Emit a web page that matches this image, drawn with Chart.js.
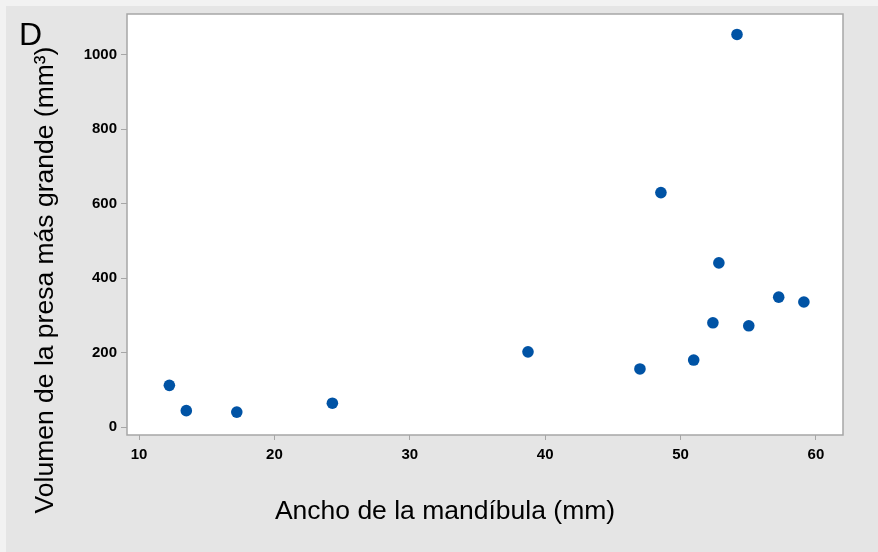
<!DOCTYPE html>
<html>
<head>
<meta charset="utf-8">
<script src="https://cdn.jsdelivr.net/npm/chart.js@4/dist/chart.umd.min.js"></script>
<style>
  html, body { margin: 0; padding: 0; background: #f2f2f2; }
  #wrap { width: 878px; height: 552px; position: relative; }
</style>
</head>
<body>
<div id="wrap"><canvas id="c" width="878" height="552"></canvas></div>
<script>
// Data
const mandibleWidth = [12.24, 13.49, 17.22, 24.28, 38.73, 47.0, 48.55, 50.97, 52.39, 52.83, 54.17, 55.04, 57.25, 59.11];
const preyVolume    = [112, 44, 40, 64, 202, 156, 630, 180, 280, 441, 1055, 272, 349, 336];
const xTicks = [10, 20, 30, 40, 50, 60];
const yTicks = [0, 200, 400, 600, 800, 1000];
const panelLabel = "D";
const xTitle = "Ancho de la mandíbula (mm)";
const yTitle = "Volumen de la presa más grande (mm³)";

const points = mandibleWidth.map((w, i) => ({ x: w, y: preyVolume[i] }));

const FONT = "'Liberation Sans', Arial, Helvetica, sans-serif";

const decor = {
  id: 'decor',
  beforeDraw(chart) {
    const { ctx, chartArea: a } = chart;
    ctx.save();
    ctx.fillStyle = '#f2f2f2';
    ctx.fillRect(0, 0, chart.width, chart.height);
    ctx.fillStyle = '#e5e5e5';
    ctx.fillRect(6, 6, chart.width - 6, chart.height - 6);
    ctx.fillStyle = '#ffffff';
    ctx.fillRect(a.left, a.top, a.right - a.left, a.bottom - a.top);
    ctx.restore();
  },
  afterDatasetsDraw(chart) {
    const { ctx, chartArea: a } = chart;
    ctx.save();
    ctx.strokeStyle = '#a6a6a6';
    ctx.lineWidth = 1.5;
    ctx.strokeRect(a.left, a.top, a.right - a.left, a.bottom - a.top);
    ctx.restore();
  },
  afterDraw(chart) {
    const { ctx } = chart;
    ctx.save();
    ctx.fillStyle = '#000000';
    ctx.textBaseline = 'alphabetic';
    // panel letter
    ctx.font = "32px " + FONT;
    ctx.textAlign = 'left';
    ctx.fillText(panelLabel, 19, 45);
    // x title
    ctx.font = "26.5px " + FONT;
    ctx.textAlign = 'center';
    ctx.fillText(xTitle, 445, 519);
    // y title
    ctx.translate(53, 280);
    ctx.rotate(-Math.PI / 2);
    ctx.font = "26.5px " + FONT;
    ctx.textAlign = 'center';
    ctx.fillText(yTitle, 0, 0);
    ctx.restore();
  }
};

new Chart(document.getElementById('c'), {
  type: 'scatter',
  data: {
    datasets: [{
      data: points,
      backgroundColor: '#0053a5',
      borderColor: '#0053a5',
      borderWidth: 0,
      pointRadius: 5.8,
      pointHoverRadius: 5.8
    }]
  },
  options: {
    responsive: false,
    animation: false,
    devicePixelRatio: 1,
    layout: { padding: { left: 0, top: 14, right: 35, bottom: 0 } },
    plugins: { legend: { display: false }, tooltip: { enabled: false } },
    scales: {
      x: {
        type: 'linear',
        min: 9.11,
        max: 62.0,
        afterFit(scale) { scale.height = 117; },
        afterBuildTicks(scale) { scale.ticks = xTicks.map(v => ({ value: v })); },
        grid: { display: true, drawOnChartArea: false, drawTicks: true, tickLength: 5, color: '#a6a6a6', lineWidth: 1 },
        border: { display: false },
        ticks: {
          padding: 6,
          color: '#000000',
          font: { family: FONT, size: 15, weight: 'bold' },
          maxRotation: 0,
          autoSkip: false,
          callback: v => String(v)
        }
      },
      y: {
        type: 'linear',
        min: -21.5,
        max: 1110,
        afterFit(scale) { scale.width = 127; },
        afterBuildTicks(scale) { scale.ticks = yTicks.map(v => ({ value: v })); },
        grid: { display: true, drawOnChartArea: false, drawTicks: true, tickLength: 6, color: '#a6a6a6', lineWidth: 1 },
        border: { display: false },
        ticks: {
          padding: 4,
          color: '#000000',
          font: { family: FONT, size: 15, weight: 'bold' },
          autoSkip: false,
          callback: v => String(v)
        }
      }
    }
  },
  plugins: [decor]
});
</script>
</body>
</html>
